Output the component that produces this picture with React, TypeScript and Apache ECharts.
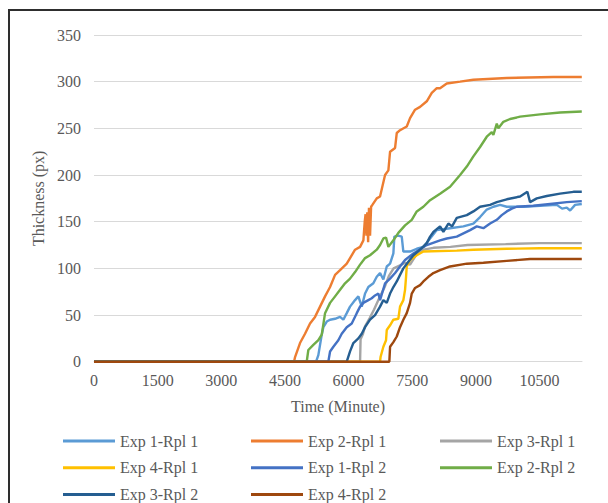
import React, { useEffect, useRef } from "react";
import * as echarts from "echarts";

const seriesNames = [
  "Exp 1-Rpl 1", "Exp 2-Rpl 1", "Exp 3-Rpl 1", "Exp 4-Rpl 1",
  "Exp 1-Rpl 2", "Exp 2-Rpl 2", "Exp 3-Rpl 2", "Exp 4-Rpl 2",
];
const seriesColors = [
  "#5B9BD5", "#ED7D31", "#A5A5A5", "#FFC000",
  "#4472C4", "#70AD47", "#255E91", "#9E480E",
];

const exp1Rpl1 = [
  [0, 0], [5233, 0], [5287, 7], [5367, 29], [5405, 37], [5485, 43], [5563, 45], [5680, 46],
  [5798, 48], [5876, 45], [5956, 52], [6034, 59], [6152, 66], [6230, 70], [6310, 59],
  [6388, 73], [6465, 80], [6583, 84], [6663, 91], [6741, 95], [6819, 88], [6899, 102],
  [6977, 105], [7055, 116], [7078, 134], [7172, 135], [7252, 134], [7290, 118], [7448, 118],
  [7606, 121], [7762, 123], [7920, 132], [8078, 141], [8391, 143], [8705, 145], [8940, 148],
  [9098, 155], [9256, 163], [9412, 166], [9569, 168], [9727, 166], [10119, 166], [10512, 167],
  [10906, 168], [11031, 164], [11141, 165], [11220, 162], [11337, 168], [11495, 169],
];
const exp2Rpl1 = [
  [0, 0], [4714, 0], [4738, 5], [4855, 20], [4973, 30], [5091, 41], [5209, 48], [5327, 59],
  [5445, 70], [5563, 80], [5681, 93], [5799, 98], [5956, 105], [6034, 111], [6152, 120],
  [6270, 123], [6348, 130], [6380, 150], [6400, 158], [6420, 135], [6440, 160], [6460, 128],
  [6480, 165], [6505, 135], [6530, 166], [6560, 168], [6663, 175], [6741, 177], [6859, 200],
  [6937, 205], [6977, 225], [7095, 229], [7135, 245], [7212, 248], [7370, 252], [7448, 261],
  [7566, 270], [7684, 273], [7842, 279], [7960, 288], [8078, 293], [8155, 293], [8313, 298],
  [8627, 300], [8940, 302], [9727, 304], [10826, 305], [11495, 305],
];
const exp3Rpl1 = [
  [0, 0], [6270, 0], [6282, 24], [6340, 30], [6388, 38], [6500, 47], [6600, 56], [6720, 68],
  [6850, 80], [6950, 92], [7060, 100], [7200, 103], [7340, 106], [7448, 104], [7600, 115],
  [7760, 120], [8000, 122], [8400, 123], [8800, 125], [9700, 126], [10500, 127], [11495, 127],
];
const exp4Rpl1 = [
  [0, 0], [6741, 0], [6753, 5], [6819, 16], [6882, 23], [6899, 34], [6977, 39], [7055, 45],
  [7172, 46], [7212, 59], [7290, 66], [7330, 77], [7354, 91], [7370, 102], [7448, 109],
  [7606, 114], [7762, 118], [8549, 119], [8940, 120], [9727, 121], [10512, 121.5], [11495, 121.5],
];
const exp1Rpl2 = [
  [0, 0], [5522, 0], [5563, 11], [5641, 16], [5758, 23], [5838, 30], [5956, 37], [6074, 41],
  [6192, 52], [6270, 59], [6347, 63], [6465, 66], [6545, 68], [6623, 71], [6701, 73],
  [6741, 66], [6859, 84], [6977, 89], [7095, 95], [7212, 102], [7330, 109], [7526, 116],
  [7842, 125], [8155, 130], [8313, 132], [8549, 134], [8863, 141], [9020, 145], [9176, 143],
  [9334, 148], [9492, 152], [9609, 157], [9727, 161], [9845, 164], [9962, 166], [10355, 167],
  [10748, 169], [11141, 171], [11495, 172],
];
const exp2Rpl2 = [
  [0, 0], [5013, 0], [5051, 12.5], [5169, 18], [5287, 23], [5367, 29], [5445, 52], [5563, 63],
  [5681, 70], [5799, 77], [5916, 84], [6034, 89], [6152, 96], [6270, 104], [6388, 111],
  [6505, 114], [6663, 120], [6741, 125], [6819, 132], [6882, 133], [6937, 123], [7055, 130],
  [7172, 138], [7330, 146], [7488, 152], [7606, 161], [7762, 166], [7920, 173], [8155, 180],
  [8391, 187.5], [8627, 200], [8785, 209], [8940, 220], [9098, 230], [9256, 241], [9374, 246],
  [9412, 243], [9492, 255], [9529, 250], [9647, 257], [9805, 260], [10041, 262.5],
  [10512, 265], [10983, 267], [11495, 268],
];
const exp3Rpl2 = [
  [0, 0], [5956, 0], [6034, 11], [6112, 20], [6230, 25], [6310, 30], [6388, 37], [6505, 45],
  [6623, 50], [6741, 59], [6819, 66], [6899, 63], [6977, 73], [7055, 80], [7135, 86],
  [7212, 93], [7290, 100], [7408, 107], [7526, 114], [7684, 120], [7842, 127], [7920, 134],
  [7998, 139], [8155, 145], [8233, 139], [8351, 148], [8438, 145], [8549, 154], [8785, 157],
  [8940, 161], [9098, 166], [9334, 168], [9492, 171], [9727, 174], [10041, 177], [10213, 182],
  [10276, 171], [10434, 175], [10670, 177.5], [10983, 180], [11297, 182], [11495, 182],
];
const exp4Rpl2 = [
  [0, 0], [6960, 0], [6977, 16], [7055, 21], [7135, 27], [7212, 37], [7290, 45], [7370, 52],
  [7448, 63], [7488, 73], [7566, 79], [7684, 82], [7762, 86], [7880, 91], [7998, 95],
  [8155, 98], [8391, 102], [8785, 105], [9176, 106], [9727, 108], [10276, 110], [11495, 110],
];

const seriesData = [exp1Rpl1, exp2Rpl1, exp3Rpl1, exp4Rpl1, exp1Rpl2, exp2Rpl2, exp3Rpl2, exp4Rpl2];

const xMin = 0;
const xMax = 11500;
const xStep = 1500;
const yMin = 0;
const yMax = 350;
const yStep = 50;

const FONT = "'Liberation Serif', 'Times New Roman', serif";
const GRAY = "#595959";

export default function App() {
  const ref = useRef<HTMLDivElement>(null);
  useEffect(() => {
    if (!ref.current) return;
    const chart = echarts.init(ref.current, undefined, { renderer: "svg" });
    const legendCols = [0, 1, 2].map((c) => ({
      orient: "vertical" as const,
      left: [53, 241, 430][c],
      top: 422,
      icon: "rect",
      itemWidth: 52,
      itemHeight: 3,
      itemGap: 10.7,
      padding: 0,
      data: seriesNames.filter((_, i) => i % 3 === c),
      textStyle: { fontFamily: FONT, fontSize: 16, color: GRAY, lineHeight: 16 },
    }));
    chart.setOption({
      animation: false,
      backgroundColor: "#ffffff",
      grid: { left: 84, top: 24, width: 488, height: 326.7 },
      legend: legendCols,
      xAxis: {
        type: "value",
        min: xMin,
        max: xMax,
        interval: xStep,
        name: "Time (Minute)",
        nameLocation: "middle",
        nameGap: 37,
        nameTextStyle: { fontFamily: FONT, fontSize: 16, color: GRAY },
        axisLine: { show: true, lineStyle: { color: "#d9d9d9", width: 1 } },
        axisTick: { show: false },
        splitLine: { show: false },
        axisLabel: {
          fontFamily: FONT,
          fontSize: 16,
          color: GRAY,
          margin: 11,
          formatter: (v: number) => (v % xStep === 0 ? String(v) : ""),
        },
      },
      yAxis: {
        type: "value",
        min: yMin,
        max: yMax,
        interval: yStep,
        name: "Thickness (px)",
        nameLocation: "middle",
        nameGap: 42,
        nameRotate: 90,
        nameTextStyle: { fontFamily: FONT, fontSize: 16, color: GRAY },
        axisLine: { show: false },
        axisTick: { show: false },
        splitLine: { show: true, lineStyle: { color: "#d9d9d9", width: 1 } },
        axisLabel: { fontFamily: FONT, fontSize: 16, color: GRAY, margin: 13 },
      },
      series: seriesNames.map((name, i) => ({
        name,
        type: "line",
        data: seriesData[i],
        symbol: "none",
        showSymbol: false,
        color: seriesColors[i],
        itemStyle: { color: seriesColors[i] },
        lineStyle: { width: 2.4, color: seriesColors[i] },
        z: 2 + i,
      })),
    });
    return () => chart.dispose();
  }, []);
  return (
    <div
      style={{
        position: "fixed",
        left: 8,
        top: 9,
        borderLeft: "2px solid #2e2e2e",
        borderTop: "2px solid #2e2e2e",
        background: "#fff",
      }}
    >
      <div ref={ref} style={{ width: 598, height: 492 }} />
    </div>
  );
}
